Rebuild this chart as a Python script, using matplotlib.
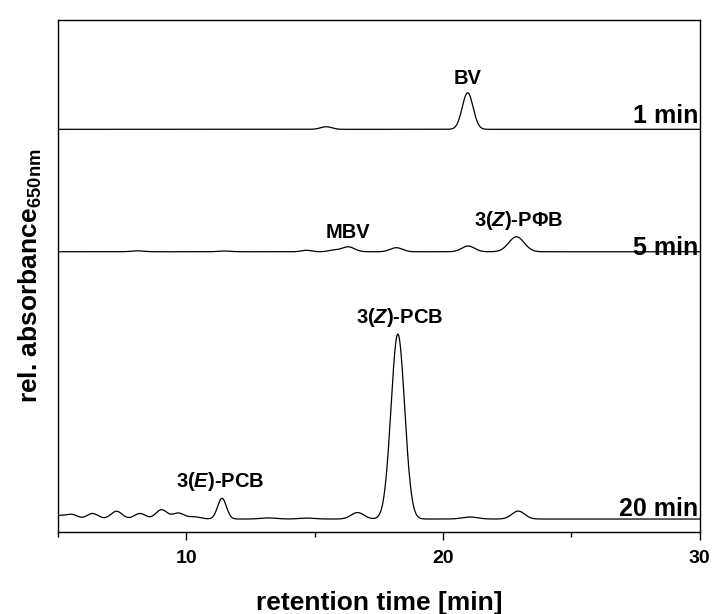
import numpy as np
import matplotlib
matplotlib.use("Agg")
import matplotlib.pyplot as plt

plt.rcParams["font.family"] = ["Liberation Sans", "DejaVu Sans"]
plt.rcParams["font.weight"] = "bold"
plt.rcParams["mathtext.fontset"] = "custom"
plt.rcParams["mathtext.rm"] = "Liberation Sans:bold"
plt.rcParams["mathtext.bf"] = "Liberation Sans:bold"
plt.rcParams["mathtext.it"] = "Liberation Sans:italic:bold"

# Chromatogram peak tables (retention time [min], relative height, peak sigma [min])
run_names = ["1 min", "5 min", "20 min"]
run_offsets = [2.177, 1.515, 0.070]

peaks_1min_t = [15.45, 20.96]
peaks_1min_h = [0.014, 0.198]
peaks_1min_w = [0.22, 0.21]

peaks_5min_t = [8.10, 11.50, 14.68, 15.72, 16.30, 18.18, 20.98, 22.86]
peaks_5min_h = [0.005, 0.004, 0.008, 0.008, 0.027, 0.022, 0.031, 0.081]
peaks_5min_w = [0.25, 0.25, 0.20, 0.20, 0.25, 0.24, 0.25, 0.30]

peaks_20min_t = [5.00, 5.55, 6.35, 7.28, 8.19, 9.03, 9.68, 10.30, 11.39,
                 13.20, 14.70, 16.67, 18.24, 21.05, 22.93]
peaks_20min_h = [0.018, 0.022, 0.030, 0.042, 0.030, 0.050, 0.032, 0.012, 0.112,
                 0.006, 0.005, 0.035, 1.000, 0.011, 0.043]
peaks_20min_w = [0.30, 0.22, 0.22, 0.22, 0.22, 0.22, 0.22, 0.25, 0.17,
                 0.30, 0.30, 0.25, 0.265, 0.30, 0.25]

# Annotated peaks: (run index, retention time, label)
label_runs = [0, 1, 1, 2, 2]
label_times = [20.96, 16.30, 22.95, 11.30, 18.30]
label_texts = ["BV", "MBV", r"3$\mathit{(Z)}$-PΦB", r"3$\mathit{(E)}$-PCB",
               r"3$\mathit{(Z)}$-PCB"]

peak_tables = [
    (peaks_1min_t, peaks_1min_h, peaks_1min_w),
    (peaks_5min_t, peaks_5min_h, peaks_5min_w),
    (peaks_20min_t, peaks_20min_h, peaks_20min_w),
]

t = np.linspace(5, 30, 3001)


def trace(times, heights, widths):
    y = np.zeros_like(t)
    for c, h, w in zip(times, heights, widths):
        y += h * np.exp(-0.5 * ((t - c) / w) ** 2)
    return y


fig = plt.figure(figsize=(7.14, 6.14), dpi=100)
ax = fig.add_axes([0.0812, 0.1336, 0.8988, 0.8338])

signals = []
for (times, heights, widths), off in zip(peak_tables, run_offsets):
    y = off + trace(times, heights, widths)
    signals.append(y)
    ax.plot(t, y, color="black", lw=0.9)

# Run labels at the right end of each trace
run_label_y = [2.211, 1.497, 0.086]
for name, yl in zip(run_names, run_label_y):
    ax.text(29.93, yl, name, ha="right", va="baseline", fontsize=18,
            fontweight="bold")

# Peak labels above the annotated peaks
for ri, tc, txt in zip(label_runs, label_times, label_texts):
    ytop = signals[ri][np.abs(t - tc) < 0.6].max()
    ax.annotate(txt, xy=(tc, ytop), xytext=(0, 3.5), textcoords="offset points",
                ha="center", va="bottom", fontsize=14.5, fontweight="bold")

ax.set_xlim(5, 30)
ax.set_ylim(0, 2.768)
ax.set_xticks([10, 20, 30])
ax.set_xticks([5, 15, 25], minor=True)
ax.set_yticks([])
ax.tick_params(axis="x", which="major", direction="out", length=6, width=1,
               labelsize=14, pad=7)
ax.tick_params(axis="x", which="minor", direction="out", length=3.5, width=1)
for lab in ax.get_xticklabels():
    lab.set_fontweight("bold")
for sp in ax.spines.values():
    sp.set_linewidth(1.0)

ax.set_xlabel("retention time [min]", fontsize=19, fontweight="bold", labelpad=17)
ax.set_ylabel(r"rel. absorbance$_{\mathrm{650nm}}$", fontsize=19,
              fontweight="bold", labelpad=10)

fig.savefig("out.png", dpi=100)
